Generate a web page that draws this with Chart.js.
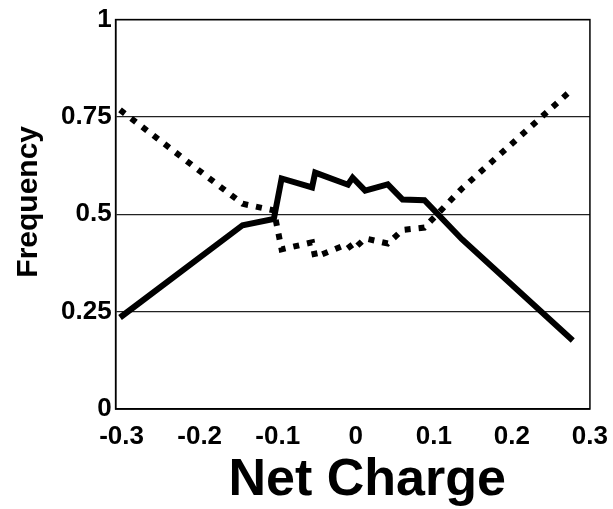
<!DOCTYPE html>
<html>
<head>
<meta charset="utf-8">
<script src="https://cdn.jsdelivr.net/npm/chart.js@4"></script>
<style>
    html, body { margin: 0; padding: 0; background: #fff; }
    #wrap { width: 613px; height: 509px; }
</style>
</head>
<body>
<div id="wrap"><canvas id="charge-chart"></canvas></div>
<script>
// values
const netCharge = [-0.302, -0.145, -0.105, -0.095, -0.056, -0.052, -0.010, -0.004, 0.012, 0.041, 0.060, 0.088, 0.136, 0.278];
const solidFreq = [0.235, 0.472, 0.488, 0.592, 0.569, 0.607, 0.576, 0.594, 0.561, 0.577, 0.538, 0.536, 0.436, 0.176];
const dottedFreq = [0.768, 0.527, 0.510, 0.410, 0.428, 0.390, 0.424, 0.408, 0.438, 0.425, 0.460, 0.466, 0.566, 0.822];
const xTicks = [-0.3, -0.2, -0.1, 0, 0.1, 0.2, 0.3];
const yTicks = [0, 0.25, 0.5, 0.75, 1];

const toPoints = (ys) => netCharge.map((x, i) => ({ x: x, y: ys[i] }));

// box round the plot area (top and right sides too)
const frameBox = {
    id: 'frameBox',
    afterDraw(chart) {
        const { ctx, chartArea } = chart;
        ctx.save();
        ctx.strokeStyle = '#000';
        ctx.lineWidth = 1.5;
        ctx.strokeRect(chartArea.left, chartArea.top, chartArea.right - chartArea.left, chartArea.bottom - chartArea.top);
        ctx.restore();
    }
};

const font = 'Liberation Sans, Arial, Helvetica, sans-serif';

new Chart(document.getElementById('charge-chart'), {
    type: 'line',
    data: {
        datasets: [
            {
                label: 'dotted',
                data: toPoints(dottedFreq),
                borderColor: '#000',
                borderWidth: 6,
                borderDash: [6, 8],
                borderCapStyle: 'butt',
                pointRadius: 0,
                tension: 0
            },
            {
                label: 'solid',
                data: toPoints(solidFreq),
                borderColor: '#000',
                borderWidth: 6,
                pointRadius: 0,
                tension: 0
            }
        ]
    },
    options: {
        responsive: true,
        maintainAspectRatio: false,
        animation: false,
        events: [],
        layout: { padding: { left: 14, right: 10, top: 17, bottom: 2 } },
        plugins: {
            legend: { display: false },
            tooltip: { enabled: false }
        },
        scales: {
            x: {
                type: 'linear',
                min: -0.3077,
                max: 0.3,
                afterBuildTicks: (axis) => { axis.ticks = xTicks.map(v => ({ value: v })); },
                grid: { display: false, drawTicks: false },
                border: { display: true, color: '#000', width: 1.5 },
                ticks: {
                    color: '#000',
                    padding: 5,
                    maxRotation: 0,
                    font: { family: font, size: 26, weight: 'bold', lineHeight: 46 / 26 },
                    callback: (v) => String(v)
                },
                title: {
                    display: true,
                    text: '  Net Charge',
                    color: '#000',
                    padding: { top: -10, bottom: 0 },
                    font: { family: font, size: 52, weight: 'bold', lineHeight: 1 }
                }
            },
            y: {
                min: 0,
                max: 1,
                afterBuildTicks: (axis) => { axis.ticks = yTicks.map(v => ({ value: v })); },
                grid: { color: '#222', lineWidth: 1.2, drawTicks: false },
                border: { display: true, color: '#000', width: 1.5 },
                ticks: {
                    color: '#000',
                    padding: 4,
                    font: { family: font, size: 26, weight: 'bold' },
                    callback: (v) => String(v)
                },
                title: {
                    display: true,
                    text: '   Frequency',
                    color: '#000',
                    padding: { top: 0, bottom: 13 },
                    font: { family: font, size: 30, weight: 'bold', lineHeight: 1 }
                }
            }
        }
    },
    plugins: [frameBox]
});
</script>
</body>
</html>
